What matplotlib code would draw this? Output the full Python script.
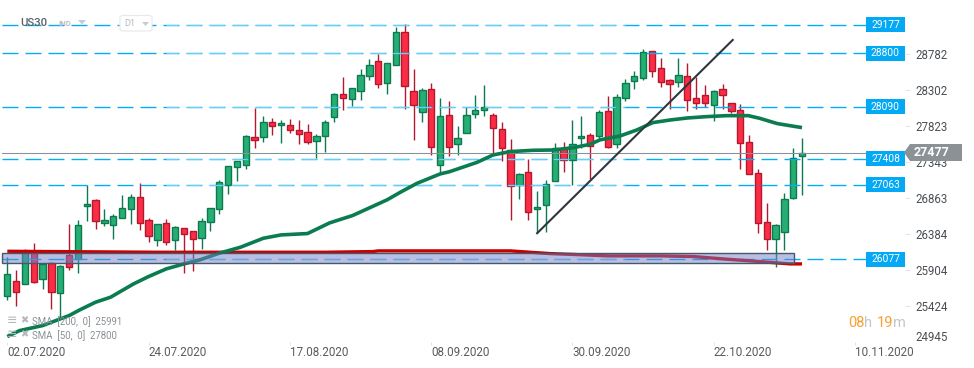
import matplotlib
matplotlib.use("Agg")
import matplotlib.pyplot as plt
from matplotlib.patches import Rectangle, Polygon, FancyBboxPatch

plt.rcParams['font.family'] = ['Roboto', 'DejaVu Sans']
plt.rcParams['lines.scale_dashes'] = False

#candles (one trading day each)
opens = [25588,25786,25747,26191,25813,26033,25628,26130,26077,26777,26856,26561,26535,26619,26738,26896,26592,26328,26553,26328,26486,26447,26354,
         26566,26746,27055,27292,27319,27689,27689,27887,27847,27847,27781,27755,27636,27702,27953,28257,28191,28297,28495,28693,28402,28640,29076,
         28297,28019,28323,27319,27979,27596,27742,27993,28046,27979,27795,27517,27055,27226,26738,26790,27107,27530,27385,27676,27715,27702,28032,
         27596,28204,28429,28468,28825,28601,28442,28416,28495,28204,28244,28112,28323,28138,28046,27623,27213,26566,26341,26434,26883,27438]
closes = [25879,25641,26169,25782,26015,25650,25984,25971,26526,26804,26579,26592,26645,26751,26896,26553,26381,26539,26301,26500,26416,26341,26579,
          26751,27094,27306,27372,27702,27658,27887,27834,27874,27781,27737,27623,27702,27887,28257,28204,28336,28508,28640,28389,28666,29076,28363,
          28112,28310,27557,27966,27557,27676,27979,28046,28085,27808,27543,27041,27200,26698,26764,27068,27543,27385,27596,27702,27570,28019,27565,
          28217,28402,28495,28812,28561,28416,28389,28508,28178,28138,28138,28297,28244,28032,27610,27200,26553,26341,26526,26870,27411,27482]
highs = [26112,25936,26213,26293,26024,26037,26002,26539,26592,27063,26874,26742,26671,26927,26940,27081,26623,26539,26610,26517,26486,26447,26619,
         26751,27125,27306,27372,27720,28076,27966,27940,27913,27931,27918,27865,27728,27913,28270,28486,28336,28587,28724,28785,28666,29142,29182,
         28587,28336,28402,28204,28164,27834,28085,28244,28376,28006,27887,27662,27213,27398,26975,27125,27610,27627,27918,27966,27742,28046,28230,
         28257,28455,28561,28852,28825,28733,28455,28733,28667,28482,28376,28310,28389,28138,28125,27715,27266,26817,26544,26949,27544,27676]
lows = [25540,25465,25747,25769,25689,25425,25315,25940,25901,26588,26482,26522,26350,26619,26548,26469,26310,26257,26271,26205,25901,25927,26218,
        26456,26680,26945,27116,27275,27552,27632,27724,27618,27750,27605,27596,27411,27495,27896,28054,28103,28186,28446,28345,28266,28640,28068,
        27658,27896,27460,27222,27447,27460,27742,27949,27975,27464,27381,26597,26878,26597,26420,26442,27107,27235,27063,27552,27143,27662,27552,
        27552,28165,28332,28442,28490,28358,28059,28350,28041,28059,28090,27909,28059,28006,27275,27200,26421,26196,25980,26196,26870,26931]

#moving averages, candle index and price
sma50_x = [0,1.4,4,7,8.2,10,11.7,14.3,16,18,20,21.8,24,26.4,29,31,34,36.5,39.1,43,44.5,46.4,49,50.1,53.2,55,56.9,59.5,61.8,64.1,66,67.1,69.4,71.3,73.1,75.1,77,79.2,81.5,83.9,85.2,87.2,88.6,90]
sma50_y = [25056,25135,25201,25333,25408,25510,25576,25752,25849,25950,26016,26069,26157,26236,26355,26399,26417,26558,26655,26862,26962,27081,27204,27235,27358,27455,27499,27517,27521,27552,27596,27654,27707,27786,27883,27918,27944,27962,27975,27975,27940,27870,27843,27817]
sma200_x = [0,17,36,41.4,42,57,59.2,61.5,64.5,68,74,77.7,81.5,85.2,88.6,90]
sma200_y = [26183,26170,26170,26179,26188,26188,26170,26152,26139,26122,26122,26113,26078,26047,26016,26016]

levels = [29177,28800,28090,27408,27063,26077]
last_price = 27477
trend_x = [60,82.15]
trend_y = [26421,28975]
zone_x = [-0.6,89.1]
zone_y = [26025,26157]

date_ticks = [0,16,32,48,64,80,96]
date_labels = ["02.07.2020","24.07.2020","17.08.2020","08.09.2020","30.09.2020","22.10.2020","10.11.2020"]
price_ticks = [28782,28302,27823,27343,26863,26384,25904,25424]

fig = plt.figure(figsize=(9.74,3.68),dpi=100)
ax = fig.add_axes([0,1-342/368,905/974,342/368])
ax.set_xlim(-0.827,101.66)
ax.set_ylim(24984,29503)
for s in ax.spines.values():
    s.set_visible(False)
ax.set_yticks([])

green, green_edge = "#27ae72", "#0c7a50"
red, red_edge = "#fb2d45", "#b5172e"
blue = "#03aef2"

#level lines and their labels
for lv in levels:
    ax.plot([-0.6,97.25],[lv,lv],color=blue,lw=1,ls=(0,(11.5,5.06)),zorder=4)
    #the lighter stretch in the middle has the same dash phase
    ax.plot([18,70],[lv,lv],color="#9adcfb",lw=0.9,ls=(2.7,(11.5,5.06)),zorder=4,alpha=0.7)
    ax.add_patch(Rectangle((97.25,lv-99),4.41,198,fc="#03a9f4",ec="none",zorder=6))
    ax.text(99.45,lv,str(lv),color="white",fontsize=7.4,ha="center",va="center",zorder=7)
ax.plot([-0.6,101.66],[last_price,last_price],color="#87919a",lw=0.75,zorder=4)

#candles
for i in range(len(opens)):
    up = closes[i] >= opens[i]
    edge = green_edge if up else red_edge
    ax.plot([i,i],[lows[i],highs[i]],color=edge,lw=1,zorder=2,solid_capstyle="butt")
    ax.bar(i,abs(closes[i]-opens[i]),bottom=min(opens[i],closes[i]),width=0.72,
           color=green if up else red,edgecolor=edge,linewidth=1,zorder=3)

ax.plot(sma200_x,sma200_y,color="#c90000",lw=2.4,zorder=5,solid_capstyle="butt")
ax.plot(sma50_x,sma50_y,color="#0a7c50",lw=2.6,zorder=5,solid_capstyle="butt")
ax.plot(trend_x,trend_y,color="#2f3640",lw=1.5,zorder=5)
ax.add_patch(Rectangle((zone_x[0],zone_y[0]),zone_x[1]-zone_x[0],zone_y[1]-zone_y[0],
                       fc="#7280c8",alpha=0.5,ec="none",zorder=6))
ax.add_patch(Rectangle((zone_x[0],zone_y[0]),zone_x[1]-zone_x[0],zone_y[1]-zone_y[0],
                       fc="none",ec="#46586a",lw=1,zorder=6))

ax.set_xticks(date_ticks,date_labels)
ax.tick_params(axis="x",length=2.2,width=0.7,color="#e4e4e4",pad=1,labelsize=8.4,labelcolor="#555b60")
for lab in ax.get_xticklabels():
    lab.set_ha("left")

#price axis has a slightly different scale from the levels
ax2 = ax.twinx()
ax2.set_ylim(24948,29496)
for s in ax2.spines.values():
    s.set_visible(False)
ax2.set_yticks(price_ticks,[str(p) for p in price_ticks])
ax2.tick_params(axis="y",length=3.6,width=0.7,color="#e4e4e4",pad=3.6,labelsize=8.3,labelcolor="#4a4f54")

def fx(x):
    return x/974
def fy(y):
    return 1-y/368

fig.text(fx(915),fy(337.5),"24945",fontsize=8.3,color="#4a4f54",va="center")

#last price tag
fig.add_artist(Polygon([(fx(904),fy(152.5)),(fx(910),fy(144)),(fx(962),fy(144)),(fx(962),fy(161)),(fx(910),fy(161))],
                       closed=True,fc="#8a9296",ec="none",transform=fig.transFigure))
fig.text(fx(914),fy(152.5),str(last_price),fontsize=9,fontweight="bold",color="white",va="center")

#countdown
fig.text(fx(848),fy(323),"08",fontsize=10.5,color="#f8a02e",va="center")
fig.text(fx(864),fy(323),"h",fontsize=10.5,color="#c3c7cb",va="center")
fig.text(fx(877),fy(323),"19",fontsize=10.5,color="#f8a02e",va="center")
fig.text(fx(893),fy(323),"m",fontsize=10.5,color="#c3c7cb",va="center")

#header
fig.text(fx(20.5),fy(23),"US30",fontsize=8.2,fontweight="medium",color="#59636b",va="center")
fig.text(fx(58),fy(24),"IND",fontsize=5.6,fontweight="bold",color="#b8bec4",va="center")
fig.add_artist(Polygon([(fx(78),fy(20)),(fx(86),fy(20)),(fx(82),fy(24.5))],closed=True,fc="#c8ccd0",ec="none",transform=fig.transFigure))
fig.add_artist(FancyBboxPatch((fx(120),fy(31)),fx(32),15.5/368,boxstyle="round,pad=0,rounding_size=0.004",
                              fc="white",ec="#e8e8e8",lw=0.8,transform=fig.transFigure))
fig.text(fx(124),fy(23.5),"D1",fontsize=6.6,color="#b5b9bd",va="center")
fig.add_artist(Polygon([(fx(142),fy(22)),(fx(149),fy(22)),(fx(145.5),fy(26))],closed=True,fc="#c8ccd0",ec="none",transform=fig.transFigure))

#indicator legend
for yy,txt in [(321.5,"SMA  [200,  0]  25991"),(335.5,"SMA  [50,  0]  27800")]:
    fig.text(fx(32),fy(yy),txt,fontsize=6.9,color="#8b9196",va="center")
    fig.text(fx(7),fy(yy-1),"≡",fontsize=9,color="#b5b8ba",va="center",family="DejaVu Sans")
    fig.text(fx(20),fy(yy-1),"✖",fontsize=7,color="#b5b8ba",va="center",family="DejaVu Sans")

fig.savefig("out.png",dpi=100)
